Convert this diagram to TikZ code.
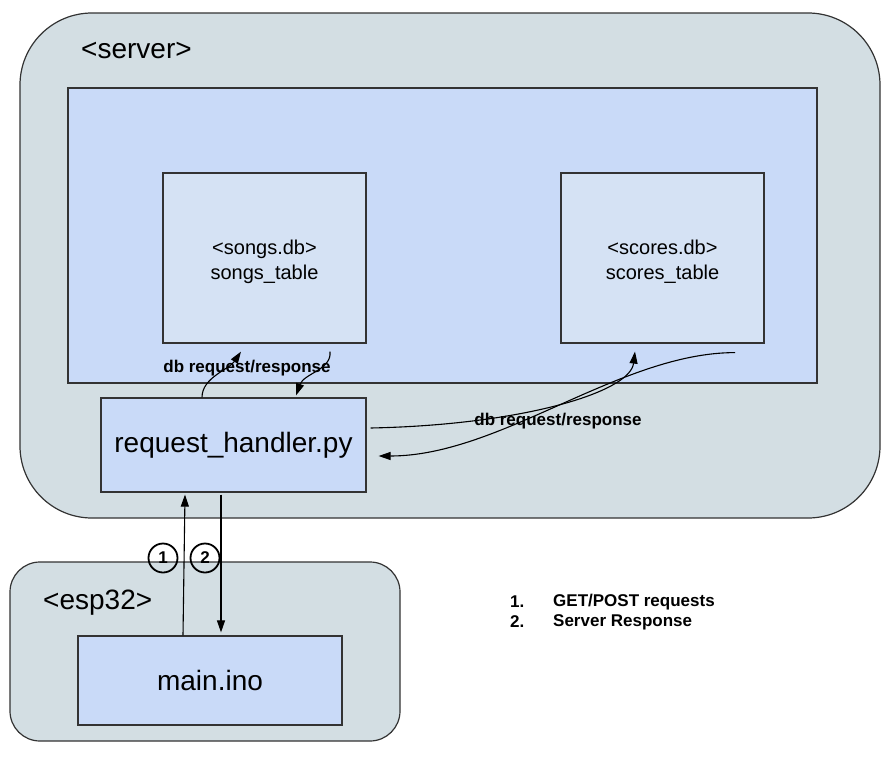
\documentclass[tikz,border=0pt]{standalone}
\usepackage{fontspec}
\setmainfont{Liberation Sans}
\usepackage{tikz}
\usetikzlibrary{arrows.meta,positioning}

\definecolor{srvgray}{HTML}{D3DEE3}
\definecolor{boxblue}{HTML}{C9DAF8}
\definecolor{dbblue}{HTML}{D5E2F4}

\begin{document}
\begin{tikzpicture}[x=1pt,y=-1pt,
		box/.style={draw=black!80,line width=1.2pt,inner sep=0pt},
		big/.style={inner sep=0pt,font=\fontsize{28}{32}\selectfont},
		lbl/.style={inner sep=0pt,font=\fontsize{17}{20}\selectfont\bfseries},
		dbtext/.style={align=center,inner sep=0pt,font=\fontsize{20}{25}\selectfont},
		num/.style={circle,draw,line width=1.8pt,minimum size=29pt,inner sep=0pt,font=\fontsize{17}{20}\selectfont\bfseries}]
		\useasboundingbox (0,0) rectangle (884,758);

		\begin{scope}[every node/.style={box}]
			\node[fill=srvgray,rounded corners=72pt,minimum width=860pt,minimum height=505pt] (Srv) at (450,265.5) {};
			\node[fill=boxblue,minimum width=749pt,minimum height=295pt] (In) at (442.5,235.5) {};
			\node[fill=dbblue,minimum width=203pt,minimum height=170pt] (So) at (264.5,258) {};
			\node[fill=dbblue,minimum width=203pt,minimum height=170pt] (Sc) at (662.5,258) {};
			\node[fill=boxblue,minimum width=265pt,minimum height=94pt,font=\fontsize{28}{32}\selectfont] (H) at (233.5,445) {request\_handler.py};
			\node[fill=srvgray,rounded corners=30pt,minimum width=390pt,minimum height=179pt] (Esp) at (205,651.5) {};
			\node[fill=boxblue,minimum width=264pt,minimum height=89pt,font=\fontsize{28}{32}\selectfont] (M) at (210,680.5) {main.ino};
		\end{scope}

		\node[dbtext] (SoT) at (264.5,262) {<songs.db>\\songs\_table};
		\node[dbtext] (ScT) at (662.5,262) {<scores.db>\\scores\_table};
		\node[big,anchor=west] (SrvT) at (81,50) {<server>};
		\node[big,anchor=west] (EspT) at (43,603) {<esp32>};

		\begin{scope}[line width=1.1pt,>={Triangle[length=12pt,width=8pt]}]
			% songs
			\draw[->] ([xshift=-31.5pt]H.north) .. controls +(0,-20) and +(-12,18) .. ([shift={(-23.5,8)}]So.south);
			\draw[->] ([shift={(65.5,8)}]So.south) .. controls +(2,18) and +(8,-22) .. ([shift={(62.5,-2)}]H.north);
			% scores
			\draw[->] ([shift={(4,-17)}]H.east) .. controls +(150,-3) and +(-5,41) .. ([shift={(-27.5,8)}]Sc.south);
			\draw[->] ([shift={(72.5,9)}]Sc.south) .. controls +(-115,0) and +(122,0) .. ([shift={(12,11)}]H.east);
			% esp32 <-> server
			\draw[->] ([xshift=-27pt]M.north) -- ([shift={(-48.5,2)}]H.south);
			\draw[->] ([shift={(-12.5,2)}]H.south) -- ([shift={(11,-3)}]M.north);
		\end{scope}

		\node[lbl] (L1) at (247,368) {db request/response};
		\node[lbl] (L2) at (558,421) {db request/response};

		\node[num] (N1) at (163,558) {1};
		\node[num] (N2) at (205,558) {2};

		\node[lbl,anchor=west] (K1) at (510,602) {1.};
		\node[lbl,anchor=west] (G1) at (553,602) {GET/POST requests};
		\node[lbl,anchor=west] (K2) at (510,622) {2.};
		\node[lbl,anchor=west] (G2) at (553,622) {Server Response};
	\end{tikzpicture}
\end{document}
